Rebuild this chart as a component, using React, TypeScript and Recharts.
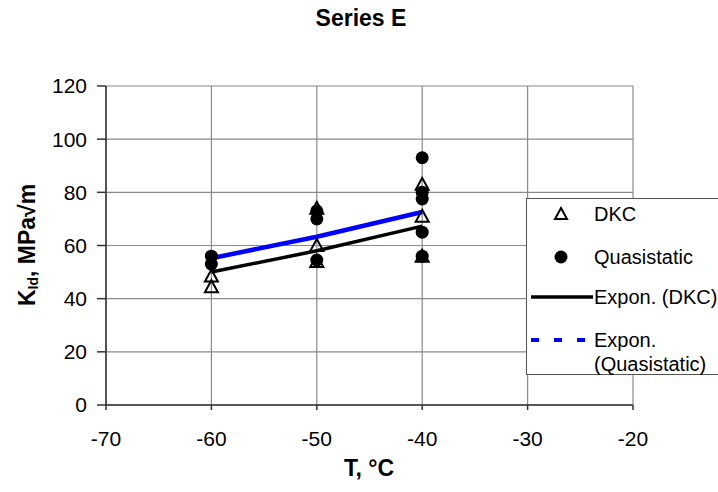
import React from "react";
import { CartesianGrid, Scatter, ScatterChart, XAxis, YAxis } from "recharts";

// readings, temperature in °C, K_Id in MPa√m
const X_TICKS = [-70, -60, -50, -40, -30, -20];
const Y_TICKS = [0, 20, 40, 60, 80, 100, 120];

const DKC_T = [-60, -60, -50, -50, -50, -40, -40, -40];
const DKC_K = [48.5, 44.5, 74, 60, 54, 83, 71, 56];

const QS_T = [-60, -60, -50, -50, -50, -40, -40, -40, -40, -40];
const QS_K = [56, 53, 73, 70, 54.5, 93, 80, 77.5, 65, 56];

// trend lines (Excel "Expon.") read at -60 / -50 / -40
const TREND_T = [-60, -50, -40];
const TREND_DKC = [50, 58, 67.3];
const TREND_QS = [55.2, 63.3, 72.6];

const FONT = '"Liberation Sans", Arial, sans-serif';

const zip = (xs: number[], ys: number[]) => xs.map((x, i) => ({ x, y: ys[i] }));

const Triangle = (p: any) => {
  const { cx, cy } = p;
  if (cx == null || cy == null) return <g />;
  return (
    <path
      d={`M${cx},${cy - 6.5} L${cx + 6.5},${cy + 5.5} L${cx - 6.5},${cy + 5.5} Z`}
      fill="none"
      stroke="#000"
      strokeWidth={2}
    />
  );
};

const Dot = (p: any) => {
  const { cx, cy } = p;
  if (cx == null || cy == null) return <g />;
  return <circle cx={cx} cy={cy} r={6.5} fill="#000" />;
};

const NoMark = () => <g />;

function LegendBox() {
  const txt: React.CSSProperties = { position: "absolute", left: 67, fontSize: 20, lineHeight: "24px", whiteSpace: "nowrap" };
  return (
    <div
      style={{
        position: "absolute", left: 526, top: 198, width: 200, height: 177,
        border: "1.5px solid #555", background: "#fff", boxSizing: "border-box",
      }}
    >
      <svg width={66} height={177} style={{ position: "absolute", left: 0, top: 0 }}>
        <path d="M34,9 L40,20 L28,20 Z" fill="none" stroke="#000" strokeWidth={2} />
        <circle cx={34} cy={58} r={6.5} fill="#000" />
        <line x1={4} y1={98} x2={66} y2={98} stroke="#000" strokeWidth={3.5} />
        <line x1={4} y1={141} x2={66} y2={141} stroke="#0000ff" strokeWidth={4} strokeDasharray="8 15" />
      </svg>
      <div style={{ ...txt, top: 3 }}>DKC</div>
      <div style={{ ...txt, top: 46 }}>Quasistatic</div>
      <div style={{ ...txt, top: 86 }}>Expon. (DKC)</div>
      <div style={{ ...txt, top: 129 }}>Expon.</div>
      <div style={{ ...txt, top: 153 }}>(Quasistatic)</div>
    </div>
  );
}

export default function App() {
  return (
    <div style={{ position: "absolute", left: 0, top: 0, width: 718, height: 492, background: "#fff", fontFamily: FONT, color: "#000", overflow: "hidden" }}>
      <ScatterChart width={718} height={492} margin={{ top: 86, right: 85, bottom: 57, left: 46 }}>
        <CartesianGrid stroke="#8a8a8a" strokeWidth={1.2} horizontalValues={Y_TICKS} verticalValues={X_TICKS} />
        <XAxis
          type="number" dataKey="x" domain={[-70, -20]} ticks={X_TICKS} height={30}
          stroke="#333" strokeWidth={1.5} tickSize={5} tickMargin={21}
          tick={{ fontSize: 21, fill: "#000", fontFamily: FONT }}
          allowDataOverflow
        />
        <YAxis
          type="number" dataKey="y" domain={[0, 120]} ticks={Y_TICKS} width={60}
          stroke="#333" strokeWidth={1.5} tickSize={9} tickMargin={10}
          tick={{ fontSize: 21, fill: "#000", fontFamily: FONT }}
          allowDataOverflow
        />
        <Scatter data={zip(TREND_T, TREND_DKC)} line={{ stroke: "#000", strokeWidth: 3.5 }} shape={NoMark} isAnimationActive={false} />
        <Scatter data={zip(TREND_T, TREND_QS)} line={{ stroke: "#0000ff", strokeWidth: 4.5 }} shape={NoMark} isAnimationActive={false} />
        <Scatter data={zip(DKC_T, DKC_K)} shape={Triangle} isAnimationActive={false} />
        <Scatter data={zip(QS_T, QS_K)} shape={Dot} isAnimationActive={false} />
      </ScatterChart>

      <div style={{ position: "absolute", left: 0, width: 722, top: 5, textAlign: "center", fontSize: 23, fontWeight: "bold" }}>
        Series E
      </div>
      <div style={{ position: "absolute", left: 0, width: 738, top: 455, textAlign: "center", fontSize: 23, fontWeight: "bold" }}>
        T, °C
      </div>
      <div
        style={{
          position: "absolute", left: 27, top: 245, transform: "translate(-50%, -50%) rotate(-90deg)",
          fontSize: 23, fontWeight: "bold", whiteSpace: "nowrap",
        }}
      >
        K<span style={{ fontSize: 14, verticalAlign: "-3px" }}>Id</span>, MPa√m
      </div>
      <LegendBox />
    </div>
  );
}
